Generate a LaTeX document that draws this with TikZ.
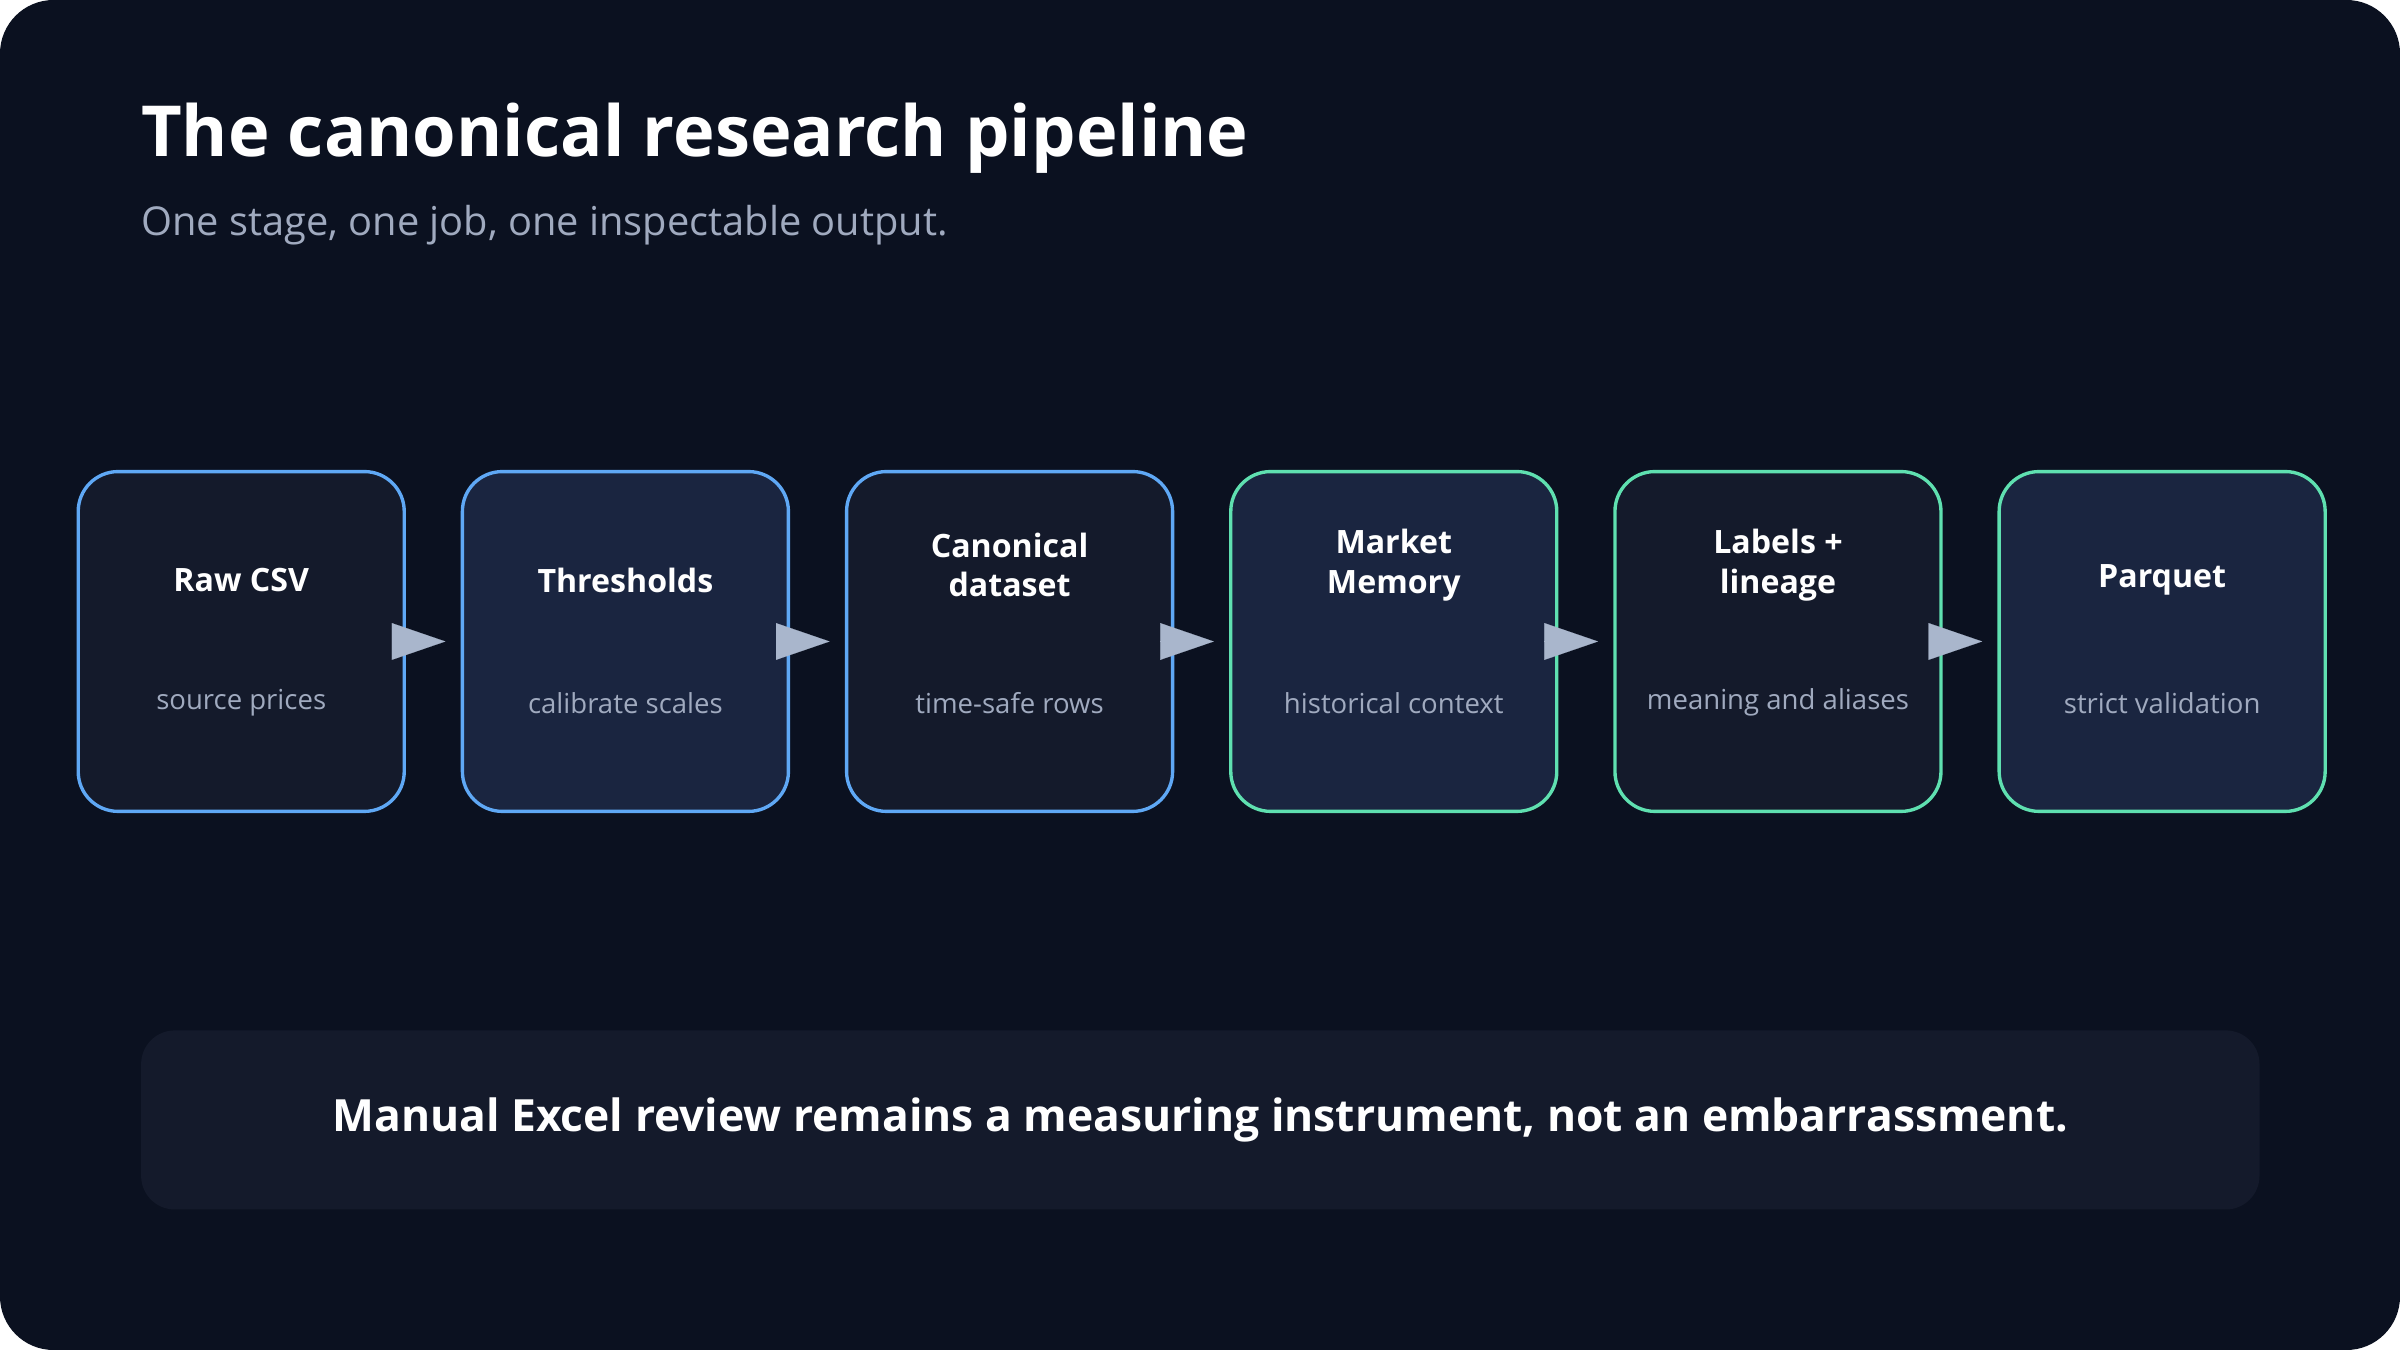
\documentclass[tikz,border=0pt]{standalone}
\usepackage{fontspec}
\setmainfont{Open Sans}
\usetikzlibrary{arrows.meta}
\definecolor{bg}{HTML}{0B1120}
\definecolor{boxa}{HTML}{141A2B}
\definecolor{boxb}{HTML}{1A2540}
\definecolor{blu}{HTML}{5FA8F5}
\definecolor{grn}{HTML}{5FE0B0}
\definecolor{sub}{HTML}{A0AABF}
\definecolor{arr}{HTML}{A9B6CC}
\begin{document}
\begin{tikzpicture}[x=1pt,y=-1pt,
 stage/.style={draw, line width=2.2pt, rounded corners=26pt, minimum width=213pt, minimum height=222pt, anchor=north west},
 ttl/.style={text=white, font=\fontsize{21}{26}\selectfont\bfseries, align=center},
 st/.style={text=sub, font=\fontsize{18}{22}\selectfont},
 con/.style={arr, line width=0.1pt, -{Triangle[length=35pt,width=24pt]}}]
\useasboundingbox (0,0) rectangle (1568,882);
\fill[white] (0,0) rectangle (1568,882);
\fill[bg, rounded corners=35pt] (0,0) rectangle (1568,882);
\node[anchor=base west, text=white, font=\fontsize{46}{54}\selectfont\bfseries, inner sep=0] (title) at (92,102) {The canonical research pipeline};
\node[anchor=base west, text=sub, font=\fontsize{26}{32}\selectfont, inner sep=0] (subt) at (92,154) {One stage, one job, one inspectable output.};
\foreach \n/\x/\f/\c in {s1/50/boxa/blu, s2/301/boxb/blu, s3/552/boxa/blu, s4/803/boxb/grn, s5/1054/boxa/grn, s6/1305/boxb/grn}
  \node[stage, draw=\c, fill=\f] (\n) at (\x,307) {};
\foreach \n/\t/\y/\s in {s1/Raw CSV/378/source prices, s2/Thresholds/378/calibrate scales, s3/{Canonical\\dataset}/368/time-safe rows, s4/{Market\\Memory}/368/historical context, s5/{Labels +\\lineage}/368/meaning and aliases, s6/Parquet/378/strict validation}{
  \node[ttl] (\n t) at ([yshift=418-\y]\n.center) {\t};
  \node[st] (\n s) at ([yshift=-40]\n.center) {\s};
}
\foreach \a/\b in {s1/s2, s2/s3, s3/s4, s4/s5, s5/s6}
  \draw[con] ([xshift=-6pt]\a.east) -- ([xshift=-10pt]\b.west);
\node[fill=boxa, rounded corners=22pt, minimum width=1384pt, minimum height=117pt, anchor=north west] (panel) at (92,673) {};
\node[text=white, font=\fontsize{29}{36}\selectfont\bfseries] (note) at (panel.center) {Manual Excel review remains a measuring instrument, not an embarrassment.};
\end{tikzpicture}
\end{document}
